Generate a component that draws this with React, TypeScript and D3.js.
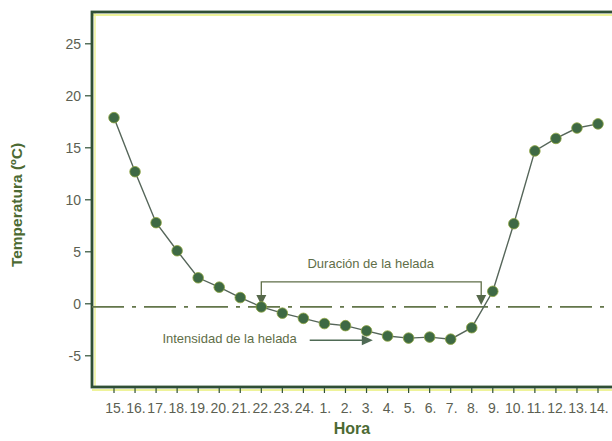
import React from "react";
import * as d3 from "d3";

const hours = ["15","16","17","18","19","20","21","22","23","24","1","2","3","4","5","6","7","8","9","10","11","12","13","14"];
const temps = [17.9, 12.7, 7.8, 5.1, 2.5, 1.6, 0.6, -0.3, -0.9, -1.4, -1.9, -2.1, -2.6, -3.1, -3.3, -3.2, -3.4, -2.3, 1.2, 7.7, 14.7, 15.9, 16.9, 17.3];
const yTicks = [-5, 0, 5, 10, 15, 20, 25];
const freezeLevel = -0.3;
// annotations in data units (index along hours, temperature)
const duration = { start: 7, end: 17.45, bracket: 2.1, label: "Duración de la helada", labelX: 12.2, labelY: 3.4 };
const intensity = { label: "Intensidad de la helada", labelX: 2.3, labelY: -3.75, arrowFrom: 9.3, arrowTo: 12.3, arrowY: -3.5 };

const W = 612, H = 441;
const left = 92, top = 12, bottom = 387, right = 614;

export default function App() {
  const x = d3.scaleLinear().domain([0, hours.length - 1]).range([114, 598]);
  const y = d3.scaleLinear().domain([-8, 28]).range([bottom, top + 0.6]);
  const line = d3.line<number>().x((_, i) => x(i)).y((d) => y(d));
  const font = "Liberation Sans, Arial, sans-serif";
  const textCol = "#5c5f52";
  const green = "#2f4f35";
  const annCol = "#5f6e48";
  const zeroY = y(freezeLevel);
  const bY = y(duration.bracket);
  const arrowHead = (cx: number, tipY: number) =>
    `M${cx - 5},${tipY - 10} L${cx + 5},${tipY - 10} L${cx},${tipY} Z`;
  const aY = y(intensity.arrowY);
  const ax2 = x(intensity.arrowTo);
  return (
    <svg width={W} height={H} style={{ position: "absolute", left: 0, top: 0, background: "#fff" }} fontFamily={font}>
      {/* frame shadow */}
      <line x1={left} x2={right} y1={top + 3} y2={top + 3} stroke="#eef39a" strokeWidth={2} />
      <line x1={left} x2={right} y1={bottom + 3} y2={bottom + 3} stroke="#eef39a" strokeWidth={2} />
      <line x1={left + 3} x2={left + 3} y1={top} y2={bottom} stroke="#eef39a" strokeWidth={1.5} />
      <rect x={left} y={top} width={right - left} height={bottom - top} fill="none" stroke={green} strokeWidth={2.8} />
      {/* y ticks */}
      {yTicks.map((t) => (
        <g key={t}>
          <line x1={left - 7} x2={left} y1={y(t)} y2={y(t)} stroke={green} strokeWidth={1.2} />
          <text x={left - 11} y={y(t)} dy="0.35em" textAnchor="end" fontSize={14} fill={textCol}>{t}</text>
        </g>
      ))}
      {/* x ticks */}
      {hours.map((h, i) => (
        <g key={h}>
          <line x1={x(i)} x2={x(i)} y1={bottom} y2={bottom + 6} stroke={green} strokeWidth={1.2} />
          <text x={x(i) + 1} y={413} textAnchor="middle" fontSize={14} fill={textCol}>{h + "."}</text>
        </g>
      ))}
      {/* axis titles */}
      <text transform={`translate(22,205) rotate(-90)`} textAnchor="middle" fontSize={15.5} fontWeight="bold" fill="#4c6a33">Temperatura (ºC)</text>
      <text x={352} y={434} textAnchor="middle" fontSize={16} fontWeight="bold" fill="#4c6a33">Hora</text>
      {/* freeze line */}
      <line x1={left} x2={right} y1={zeroY} y2={zeroY} stroke="#63764a" strokeWidth={1.6} strokeDasharray="32,8,4,8" />
      {/* duration bracket */}
      <polyline points={`${x(duration.start)},${zeroY - 8} ${x(duration.start)},${bY} ${x(duration.end)},${bY} ${x(duration.end)},${zeroY - 8}`} fill="none" stroke={annCol} strokeWidth={1.3} />
      <path d={arrowHead(x(duration.start), zeroY - 2)} fill="#55684a" />
      <path d={arrowHead(x(duration.end), zeroY - 2)} fill="#55684a" />
      <text x={x(duration.labelX)} y={y(duration.labelY)} textAnchor="middle" fontSize={13} fill={annCol}>{duration.label}</text>
      {/* intensity */}
      <text x={x(intensity.labelX)} y={y(intensity.labelY)} fontSize={13} fill={annCol}>{intensity.label}</text>
      <line x1={x(intensity.arrowFrom)} x2={ax2 - 8} y1={aY} y2={aY} stroke="#4f6a55" strokeWidth={1.5} />
      <path d={`M${ax2 - 11},${aY - 5} L${ax2},${aY} L${ax2 - 11},${aY + 5} Z`} fill="#4f6a55" />
      {/* data */}
      <path d={line(temps) || ""} fill="none" stroke="#56665a" strokeWidth={1.4} />
      {temps.map((t, i) => (
        <circle key={i} cx={x(i)} cy={y(t)} r={5.3} fill="#3e6944" stroke="#8fa640" strokeWidth={0.8} />
      ))}
    </svg>
  );
}
